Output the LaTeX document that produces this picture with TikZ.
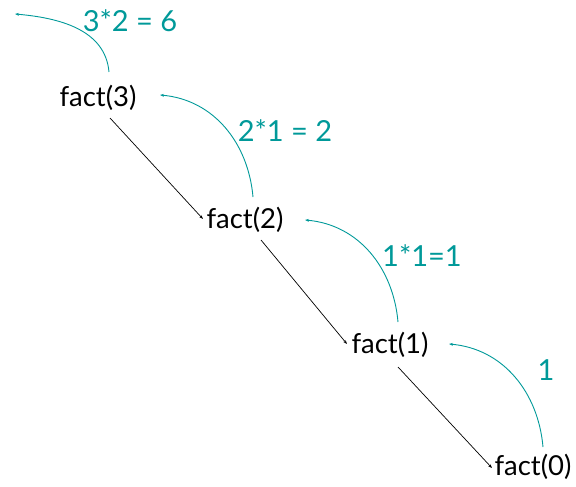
\documentclass[tikz,border=0pt]{standalone}
\usepackage{fontspec}
\setmainfont{Lato}
\usetikzlibrary{arrows.meta}
\definecolor{teal1}{RGB}{0,153,153}
\begin{document}
\begin{tikzpicture}[x=1pt,y=-1pt,
  fnode/.style={inner sep=0pt,font=\fontsize{27.5}{30}\selectfont},
  lab/.style={inner sep=0pt,text=teal1,font=\fontsize{29}{32}\selectfont},
  call/.style={draw=black,line width=0.7pt,-{Stealth[length=4pt,width=3pt]}},
  ret/.style={draw=teal1,line width=0.9pt,-{Stealth[length=4pt,width=3pt]}}]
\useasboundingbox (0,0) rectangle (576,487);
\node[fnode] (f3) at (98,98) {fact(3)};
\node[fnode] (f2) at (245,220) {fact(2)};
\node[fnode] (f1) at (390,345) {fact(1)};
\node[fnode] (f0) at (533,467) {fact(0)};
\node[lab] (l3) at (130,21) {3*2 = 6};
\node[lab] (l2) at (285,131) {2*1 = 2};
\node[lab] (l1) at (422,256) {1*1=1};
\node[lab] (l0) at (546,370) {1};
\coordinate (a3s) at (109,72); \coordinate (a3e) at (15,14);
\coordinate (a2s) at (253,197); \coordinate (a2e) at (160,95);
\coordinate (a1s) at (398,322); \coordinate (a1e) at (305,220);
\coordinate (a0s) at (543,447); \coordinate (a0e) at (449,344);
\coordinate (c3s) at (110,118); \coordinate (c3e) at (203,219);
\coordinate (c2s) at (261,240); \coordinate (c2e) at (347,344);
\coordinate (c1s) at (398,367); \coordinate (c1e) at (492,468);
\draw[call] (c3s) -- (c3e);
\draw[call] (c2s) -- (c2e);
\draw[call] (c1s) -- (c1e);
\draw[ret] (a3s) to[out=95,in=-5] (a3e);
\draw[ret] (a2s) to[out=95,in=-5] (a2e);
\draw[ret] (a1s) to[out=95,in=-5] (a1e);
\draw[ret] (a0s) to[out=95,in=-5] (a0e);
\end{tikzpicture}
\end{document}
